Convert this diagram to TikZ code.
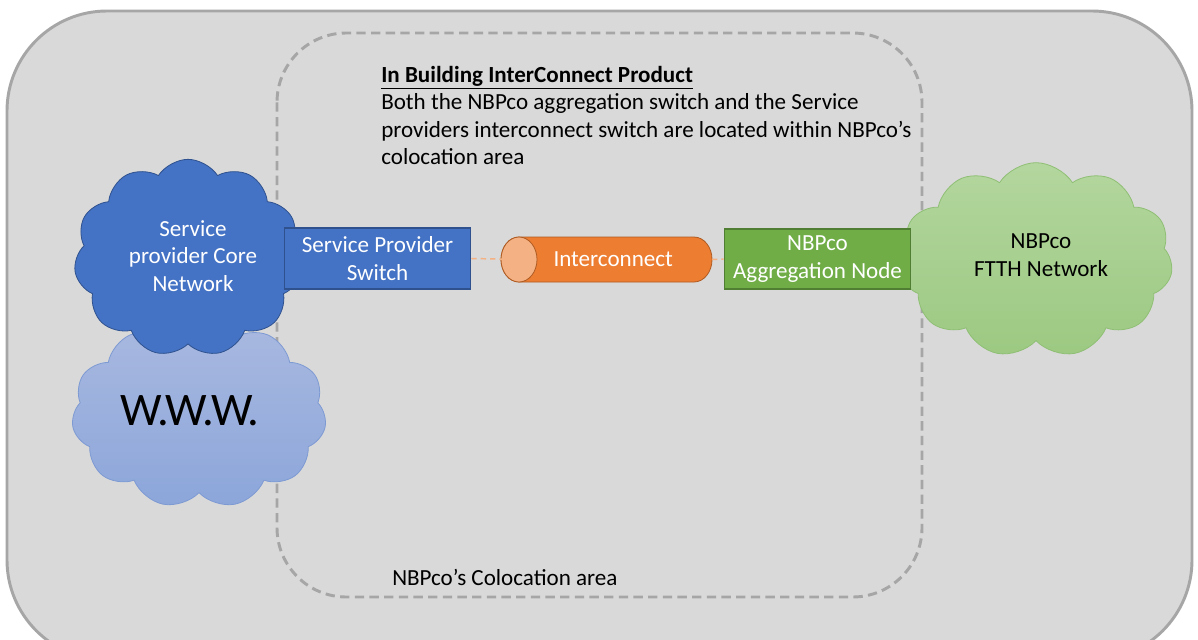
\documentclass[tikz,border=0pt]{standalone}
\usepackage{fontspec}
\setmainfont{Carlito}
\usetikzlibrary{shapes.symbols}
\definecolor{bgfill}{HTML}{D9D9D9}
\definecolor{bgline}{HTML}{A6A6A6}
\definecolor{spblue}{HTML}{4472C4}
\definecolor{spblueline}{HTML}{2F528F}
\definecolor{wwwtop}{HTML}{A9B9E0}
\definecolor{wwwbot}{HTML}{8CA6DA}
\definecolor{wwwline}{HTML}{7E9AD3}
\definecolor{grtop}{HTML}{B3D69E}
\definecolor{grbot}{HTML}{9CC982}
\definecolor{grline}{HTML}{8FBF74}
\definecolor{aggfill}{HTML}{70AD47}
\definecolor{aggline}{HTML}{507E32}
\definecolor{icfill}{HTML}{ED7D31}
\definecolor{icface}{HTML}{F4B183}
\definecolor{icline}{HTML}{AE5A21}
\definecolor{dashor}{HTML}{F4B183}
\tikzset{
  cloudshape/.style={cloud, cloud puffs=11, cloud puff arc=115, inner sep=0pt, line width=0.6pt},
  boxnode/.style={rectangle, draw, line width=0.8pt, align=center, text=white, inner sep=0pt,
    font=\fontsize{17.3}{20.6}\selectfont},
  txt/.style={inner sep=0pt, align=center, font=\fontsize{17.3}{20.6}\selectfont},
  orangedash/.style={draw=dashor, line width=1.1pt, dash pattern=on 4pt off 3pt}
}
\begin{document}
\begin{tikzpicture}[x=0.75pt,y=-0.75pt]
\useasboundingbox (0,0) rectangle (1198,639);
\clip (0,0) rectangle (1198,639);
\fill[white] (0,0) rectangle (1198,639);
% outer area
\draw[fill=bgfill, draw=bgline, line width=2.2pt, rounded corners=75pt] (7,11) rectangle (1192,660);
% colocation dashed area
\draw[draw=bgline, line width=2.2pt, dash pattern=on 7pt off 4pt, rounded corners=52pt] (277,33) rectangle (922,597);
% texts
\node[txt, anchor=north west, align=left] (title) at (381,66)
  {\textbf{\underline{In Building InterConnect Product}}\\
   Both the NBPco aggregation switch and the Service\\
   providers interconnect switch are located within NBPco’s\\
   colocation area};
\node[txt, anchor=west] (coloc) at (392,577) {NBPco’s Colocation area};
% WWW cloud
\node[cloudshape, aspect=1.36, minimum width=191pt, minimum height=141pt,
      top color=wwwtop, bottom color=wwwbot, draw=wwwline] (www) at (199,414) {};
\node[txt, font=\fontsize{35}{40}\selectfont] (wwwtxt) at (190,411) {W.W.W.};
% Service provider core cloud
\node[cloudshape, aspect=1.14, minimum width=171pt, minimum height=148pt,
      fill=spblue, draw=spblueline] (core) at (188,258) {};
\node[txt, text=white] (coretxt) at (193,256) {Service\\provider Core\\Network};
% green FTTH cloud
\node[cloudshape, aspect=1.4, minimum width=205pt, minimum height=146pt,
      top color=grtop, bottom color=grbot, draw=grline] (ftth) at (1036,260) {};
\node[txt] (ftthtxt) at (1041,255) {NBPco\\FTTH Network};
% switch
\node[boxnode, fill=spblue, draw=spblueline, minimum width=140pt, minimum height=45.75pt]
  (sw) at (377.5,258.5) {Service Provider\\Switch};
% aggregation node
\node[boxnode, fill=aggfill, draw=aggline, minimum width=140pt, minimum height=45pt]
  (agg) at (817.5,259) {NBPco\\Aggregation Node};
% interconnect cylinder
\draw[fill=icfill, draw=icline, line width=0.6pt]
  (519,237) -- (694,237) arc[start angle=90, end angle=-90, x radius=13.5pt, y radius=16.875pt]
  -- (519,282) arc[start angle=-90, end angle=-270, x radius=13.5pt, y radius=16.875pt] -- cycle;
\draw[fill=icface, draw=icline, line width=0.6pt] (519,259.5) ellipse[x radius=13.5pt, y radius=16.875pt];
\node[txt, text=white, minimum width=158pt, minimum height=34pt] (ic) at (606.5,259.5) {\hspace{10pt}Interconnect};
\coordinate (icfacec) at (522,259.5);
% connectors
\draw[orangedash] (sw.east) -- (icfacec);
\draw[orangedash] (ic.east) -- (agg.west);
\end{tikzpicture}
\end{document}
